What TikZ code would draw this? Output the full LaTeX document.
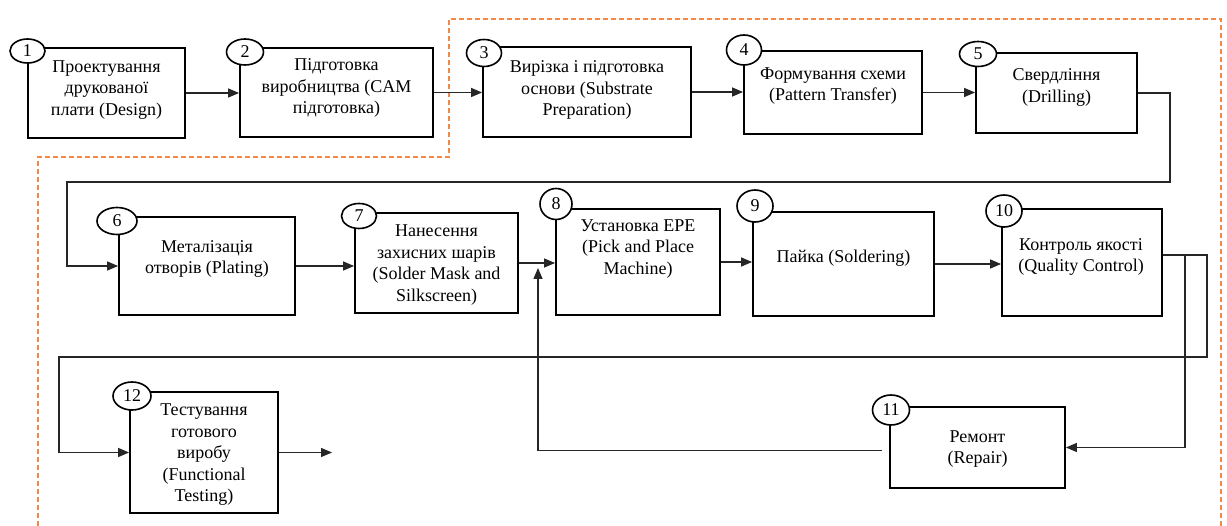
\documentclass[tikz,border=0pt]{standalone}
\usepackage{fontspec}
\setmainfont{Liberation Serif}
\newfontfamily\tnrfont{Liberation Serif}
\usetikzlibrary{arrows.meta,shapes.geometric}
\definecolor{dashor}{HTML}{EE8A4A}
\tikzset{
  box/.style={draw=black, line width=1.8pt, rectangle, inner sep=0pt},
  lbl/.style={align=center, inner sep=0pt, font=\tnrfont\fontsize{18}{21.5}\selectfont},
  num/.style={draw=black, line width=1.6pt, fill=white, ellipse, inner sep=0pt, font=\tnrfont\fontsize{18}{20}\selectfont},
  conn/.style={draw=black!85, line width=1.3pt},
  arr/.style={conn, -{Triangle[length=11pt,width=9pt]}},
  zone/.style={draw=dashor, line width=1.5pt, dash pattern=on 5pt off 3pt}
}
\begin{document}
\begin{tikzpicture}[x=1pt,y=-1pt]
\useasboundingbox (0,0) rectangle (1227,526);
% dashed zone
\draw[zone] (38,526) -- (38,157) -- (449,157) -- (449,19) -- (1221,19) -- (1221,526);
% boxes
\node[box, minimum width=157pt, minimum height=90pt]  (b1)  at (106.5,93) {};
\node[box, minimum width=193pt, minimum height=89pt]  (b2)  at (336.5,92.5) {};
\node[box, minimum width=208pt, minimum height=90pt]  (b3)  at (587,92) {};
\node[box, minimum width=178pt, minimum height=83pt]  (b4)  at (833,92.5) {};
\node[box, minimum width=161pt, minimum height=80pt]  (b5)  at (1056.5,93) {};
\node[box, minimum width=176pt, minimum height=98pt]  (b6)  at (207,266) {};
\node[box, minimum width=163pt, minimum height=100pt] (b7)  at (436.5,263) {};
\node[box, minimum width=164pt, minimum height=106pt] (b8)  at (638,262) {};
\node[box, minimum width=181pt, minimum height=104pt] (b9)  at (843.5,264) {};
\node[box, minimum width=160pt, minimum height=107pt] (b10) at (1082,262.5) {};
\node[box, minimum width=175pt, minimum height=81pt]  (b11) at (977.5,447.5) {};
\node[box, minimum width=148pt, minimum height=121pt] (b12) at (204,452.5) {};
% labels
\node[lbl] (t1)  at (106.5,90) {Проектування\\друкованої\\плати (Design)};
\node[lbl] (t2)  at (336.5,88) {Підготовка\\виробництва (CAM\\підготовка)};
\node[lbl] (t3)  at (587,90) {Вирізка і підготовка\\основи (Substrate\\Preparation)};
\node[lbl] (t4)  at (833,86) {Формування схеми\\(Pattern Transfer)};
\node[lbl] (t5)  at (1056.5,87.5) {Свердління\\(Drilling)};
\node[lbl] (t6)  at (207,259) {Металізація\\отворів (Plating)};
\node[lbl] (t7)  at (436.5,265) {Нанесення\\захисних шарів\\(Solder Mask and\\Silkscreen)};
\node[lbl] (t8)  at (638,249) {Установка ЕРЕ\\(Pick and Place\\Machine)};
\node[lbl] (t9)  at (843.5,258) {Пайка (Soldering)};
\node[lbl] (t10) at (1081,257) {Контроль якості\\(Quality Control)};
\node[lbl] (t11) at (977.5,449) {Ремонт\\(Repair)};
\node[lbl] (t12) at (204,455) {Тестування\\готового\\виробу\\(Functional\\Testing)};
% number badges
\node[num, minimum width=35pt, minimum height=24pt] (n1)  at (27.5,51) {1};
\node[num, minimum width=37pt, minimum height=26pt] (n2)  at (245,52) {2};
\node[num, minimum width=35pt, minimum height=27pt] (n3)  at (484,53) {3};
\node[num, minimum width=35pt, minimum height=30pt] (n4)  at (744,50) {4};
\node[num, minimum width=37pt, minimum height=25pt] (n5)  at (978,54) {5};
\node[num, minimum width=40pt, minimum height=27pt] (n6)  at (117,221) {6};
\node[num, minimum width=35pt, minimum height=25pt] (n7)  at (359,216) {7};
\node[num, minimum width=32pt, minimum height=31pt] (n8)  at (556,204) {8};
\node[num, minimum width=36pt, minimum height=32pt] (n9)  at (755,206) {9};
\node[num, minimum width=36pt, minimum height=32pt] (n10) at (1004,211) {10};
\node[num, minimum width=37pt, minimum height=30pt] (n11) at (891,410) {11};
\node[num, minimum width=38pt, minimum height=28pt] (n12) at (132,396) {12};
% routing points
\coordinate (k1) at (1170,182);
\coordinate (k2) at (67,182);
\coordinate (k3) at (1207,255);
\coordinate (k4) at (1207,357);
\coordinate (k5) at (59,357);
\coordinate (k6) at (1185,255);
\coordinate (k7) at (538,268);
\coordinate (out) at (332,452.5);
% connectors
\draw[arr] (b1.east) -- (b1.east -| b2.west);
\draw[arr] (b2.east) -- (b2.east -| b3.west);
\draw[arr] (b3.east) -- (b3.east -| b4.west);
\draw[arr] (b4.east) -- (b4.east -| b5.west);
\draw[arr] (b5.east) -| (k1) -- (k2) |- (b6.west);
\draw[arr] (b6.east) -- (b6.east -| b7.west);
\draw[arr] (b7.east) -- (b7.east -| b8.west);
\draw[arr] (b8.east) -- (b8.east -| b9.west);
\draw[arr] (b9.east) -- (b9.east -| b10.west);
\draw[arr] ([yshift=7.5pt]b10.east) -- (k3) -- (k4) -- (k5) |- (b12.west);
\draw[arr] (k6) |- (b11.east);
\draw[arr, shorten <=7pt] ([yshift=-3pt]b11.west) -| (k7);
\draw[arr] (b12.east) -- (out);
\end{tikzpicture}
\end{document}
